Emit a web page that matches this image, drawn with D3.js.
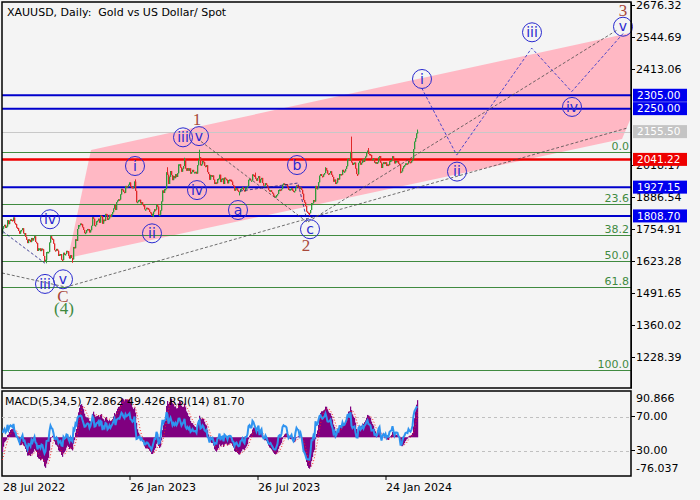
<!DOCTYPE html>
<html>
<head>
<meta charset="utf-8">
<script src="https://cdn.jsdelivr.net/npm/d3@7"></script>
<style>
  body { margin: 0; background: #f4f4f4; }
  svg { display: block; font-family: "DejaVu Sans", sans-serif; }
</style>
</head>
<body>
<script>
// daily closes before the first visible bar, only used to warm up MACD / RSI
const warmupJun22 = [1847, 1869, 1851, 1841, 1852, 1853, 1848, 1871, 1819, 1808, 1835, 1857, 1840, 1839, 1832, 1838, 1822, 1827, 1823, 1820, 1817, 1807];
const warmupJul22 = [1811, 1808, 1764, 1739, 1740, 1742, 1734, 1725, 1735, 1709, 1708, 1709, 1711, 1696, 1718, 1727, 1719, 1717, 1735];

// visible daily closes, 28 Jul 2022 .. 7 Mar 2024
const closeJul22 = [1756, 1766];
const closeAug22 = [1772, 1760, 1765, 1791, 1775, 1789, 1794, 1792, 1789, 1802, 1779, 1775, 1761, 1758, 1747, 1736, 1748, 1751, 1758, 1737, 1738, 1723, 1711];
const closeSep22 = [1697, 1712, 1710, 1701, 1718, 1708, 1717, 1725, 1702, 1697, 1665, 1675, 1675, 1664, 1674, 1671, 1644, 1622, 1628, 1660, 1661, 1661];
const closeOct22 = [1699, 1725, 1716, 1712, 1695, 1668, 1666, 1673, 1666, 1644, 1650, 1652, 1629, 1627, 1657, 1649, 1652, 1665, 1663, 1645, 1634];
const closeNov22 = [1647, 1636, 1630, 1681, 1676, 1712, 1706, 1755, 1771, 1771, 1777, 1774, 1762, 1751, 1738, 1740, 1750, 1755, 1754, 1741, 1750, 1768];
const closeDec22 = [1803, 1797, 1769, 1771, 1786, 1789, 1797, 1781, 1810, 1807, 1777, 1793, 1788, 1817, 1814, 1792, 1798, 1813, 1804, 1815, 1824];
const closeJan23 = [1839, 1855, 1833, 1865, 1872, 1877, 1876, 1897, 1920, 1916, 1908, 1904, 1932, 1926, 1931, 1937, 1946, 1930, 1928, 1923, 1928];
const closeFeb23 = [1950, 1912, 1865, 1867, 1873, 1875, 1861, 1865, 1854, 1853, 1836, 1836, 1842, 1841, 1835, 1825, 1822, 1810, 1817, 1826];
const closeMar23 = [1836, 1835, 1855, 1847, 1813, 1814, 1831, 1868, 1913, 1903, 1918, 1920, 1988, 1978, 1940, 1970, 1993, 1977, 1956, 1973, 1964, 1980, 1969];
const closeApr23 = [1984, 2020, 2021, 2008, 1991, 2003, 2014, 2040, 2004, 1995, 2005, 1995, 2004, 1983, 1989, 1998, 1989, 1989, 1990];
const closeMay23 = [1983, 2017, 2039, 2050, 2017, 2021, 2035, 2030, 2015, 2011, 2017, 1989, 1981, 1958, 1977, 1971, 1975, 1958, 1941, 1946, 1943, 1960, 1962];
const closeJun23 = [1978, 1948, 1961, 1963, 1940, 1966, 1961, 1957, 1943, 1956, 1958, 1957, 1950, 1936, 1932, 1913, 1921, 1923, 1913, 1907, 1908, 1919];
const closeJul23 = [1921, 1926, 1915, 1910, 1925, 1925, 1932, 1957, 1961, 1955, 1955, 1979, 1976, 1969, 1962, 1954, 1964, 1972, 1946, 1959, 1965];
const closeAug23 = [1944, 1934, 1934, 1943, 1936, 1925, 1915, 1912, 1914, 1907, 1901, 1892, 1889, 1889, 1894, 1899, 1915, 1917, 1914, 1920, 1937, 1942, 1940];
const closeSep23 = [1940, 1938, 1926, 1916, 1919, 1919, 1922, 1913, 1908, 1911, 1924, 1934, 1931, 1930, 1920, 1925, 1916, 1900, 1874, 1864, 1849];
const closeOct23 = [1827, 1822, 1821, 1820, 1833, 1861, 1861, 1874, 1868, 1932, 1920, 1923, 1947, 1974, 1981, 1973, 1970, 1979, 1985, 2006, 1996, 1983];
const closeNov23 = [1982, 1985, 1992, 1978, 1969, 1950, 1958, 1940, 1946, 1963, 1959, 1981, 1981, 1978, 1998, 1990, 1992, 2002, 2013, 2041, 2044, 2036];
const closeDec23 = [2072, 2029, 2019, 2025, 2028, 2004, 1981, 1980, 2027, 2034, 2020, 2027, 2041, 2031, 2046, 2053, 2067, 2077, 2064, 2063];
const closeJan24 = [2059, 2042, 2043, 2045, 2028, 2030, 2024, 2029, 2049, 2055, 2028, 2006, 2023, 2029, 2022, 2029, 2014, 2020, 2018, 2033, 2037, 2039];
const closeFeb24 = [2054, 2039, 2025, 2035, 2035, 2034, 2024, 2020, 1992, 1992, 2004, 2013, 2017, 2024, 2025, 2024, 2035, 2031, 2029, 2034, 2044];
const closeMar24 = [2083, 2114, 2128, 2148, 2155.5];

// notable wick extremes [bar, price]
const wickHigh = [[133, 1959], [165, 2009], [182, 2048], [197, 2081], [253, 1987], [323, 2009], [349, 2135], [366, 2088], [415, 2164]];
const wickLow = [[44, 1614], [70, 1616], [151, 1804], [237, 1893], [274, 1885], [307, 1810], [355, 1973], [398, 1984]];

// price axis (labels hidden under the level tags are left out) and levels
const priceTicks = [2676.32, 2544.69, 2413.06, 2018.17, 1886.54, 1754.91, 1623.28, 1491.65, 1360.02, 1228.39];
const blueLevels = [2305.00, 2250.00, 1927.15, 1808.70];
const redLevels = [2041.22];
const bidPrice = 2155.50;
const fibHigh = 2070.4;
const fibLow = 1174.9;
const fibLevels = [0, 23.6, 38.2, 50.0, 61.8, 100.0];

// time axis
const dateLabels = ["28 Jul 2022", "26 Jan 2023", "26 Jul 2023", "24 Jan 2024"];
const dateBars = [0, 128, 256, 384];

// channel drawn on the chart [bar, price]
const channel = [[89, 2080], [628, 2561], [628, 2203], [620, 2125], [66, 1636]];

// dashed wave lines [bar, price]
const grayLines = [
  [[0, 1574], [64, 1516], [625, 2170]],
  [[199, 2115], [305, 1784]],
  [[306, 1784], [615, 2573]],
];
const navyLines = [
  [[1, 1744], [43, 1614]],
  [[238, 1911], [296, 1944], [305, 1790]],
];
const projection = [[419.7, 2335], [454.7, 2059], [529.7, 2499], [569.7, 2320], [621.3, 2560]];

// wave labels
const minorWaves = [
  { label: "iv", bar: 48, price: 1795 },
  { label: "iii", bar: 43, price: 1529 },
  { label: "v", bar: 61, price: 1548 },
  { label: "i", bar: 133, price: 2014 },
  { label: "ii", bar: 150, price: 1737 },
  { label: "iii", bar: 181, price: 2132 },
  { label: "v", bar: 197, price: 2137 },
  { label: "iv", bar: 195, price: 1915 },
  { label: "a", bar: 236, price: 1833 },
  { label: "b", bar: 295, price: 2018 },
  { label: "c", bar: 308, price: 1754 },
  { label: "i", bar: 420, price: 2372 },
  { label: "ii", bar: 455, price: 1991 },
  { label: "iii", bar: 530, price: 2564 },
  { label: "iv", bar: 570, price: 2257 },
  { label: "v", bar: 621, price: 2587 },
];
const majorWaves = [
  { label: "1", bar: 195, price: 2207 },
  { label: "2", bar: 304, price: 1689 },
  { label: "3", bar: 621, price: 2656 },
  { label: "C", bar: 61, price: 1481 },
];
const cycleWaves = [{ label: "(4)", bar: 62, price: 1429 }];

// indicator window
const macdLegend = [72.862, 49.426, 81.70];
const macdMax = 90.866;
const macdMin = -76.037;
const rsiLevels = [70, 30];

const warmup = warmupJun22.concat(warmupJul22);
const closes = [].concat(closeJul22, closeAug22, closeSep22, closeOct22, closeNov22, closeDec22,
  closeJan23, closeFeb23, closeMar23, closeApr23, closeMay23, closeJun23, closeJul23, closeAug23,
  closeSep23, closeOct23, closeNov23, closeDec23, closeJan24, closeFeb24, closeMar24);

const width = 700;
const height = 500;
const main = { left: 2, right: 631, top: 2, bottom: 388 };
const sub = { top: 391, bottom: 476 };

const svg = d3.select("body").append("svg").attr("width", width).attr("height", height);

const x = d3.scaleLinear().domain([0, 629]).range([main.left, main.right]);
const y = d3.scaleLinear().domain([1100.89, 2688.66]).range([main.bottom, main.top]);
const yMacd = d3.scaleLinear().domain([macdMin, macdMax]).range([sub.bottom, sub.top]);
const yRsi = d3.scaleLinear().domain([0, 100]).range([sub.bottom, sub.top]);

const line = d3.line().x((d) => x(d[0])).y((d) => y(d[1]));

svg.append("clipPath").attr("id", "main-clip")
  .append("rect").attr("x", main.left).attr("y", main.top)
  .attr("width", main.right - main.left).attr("height", main.bottom - main.top);
svg.append("clipPath").attr("id", "sub-clip")
  .append("rect").attr("x", main.left).attr("y", sub.top)
  .attr("width", main.right - main.left).attr("height", sub.bottom - sub.top);

const plot = svg.append("g").attr("clip-path", "url(#main-clip)");

// channel
plot.append("path").attr("d", line(channel) + "Z").attr("fill", "#ffb8c4");

// fibonacci levels
const fibPrice = (l) => fibHigh - (fibHigh - fibLow) * l / 100;
plot.append("g").selectAll("line").data(fibLevels).join("line")
  .attr("x1", main.left).attr("x2", main.right)
  .attr("y1", (d) => Math.round(y(fibPrice(d))) + 0.5).attr("y2", (d) => Math.round(y(fibPrice(d))) + 0.5)
  .attr("stroke", "#3f8a3f").attr("stroke-width", 1);
plot.append("g").selectAll("text").data(fibLevels).join("text")
  .attr("x", main.right - 2).attr("y", (d) => y(fibPrice(d)) - 2)
  .attr("text-anchor", "end").attr("font-size", 11).attr("fill", "#3f8a3f")
  .text((d) => d.toFixed(1));

// bid line
plot.append("line").attr("x1", main.left).attr("x2", main.right)
  .attr("y1", Math.round(y(bidPrice)) + 0.5).attr("y2", Math.round(y(bidPrice)) + 0.5)
  .attr("stroke", "#c8c8c8");

// horizontal levels
plot.append("g").selectAll("line").data(blueLevels).join("line")
  .attr("x1", main.left).attr("x2", main.right)
  .attr("y1", (d) => y(d)).attr("y2", (d) => y(d))
  .attr("stroke", "#0000cc").attr("stroke-width", 2);
plot.append("g").selectAll("line").data(redLevels).join("line")
  .attr("x1", main.left).attr("x2", main.right)
  .attr("y1", (d) => y(d)).attr("y2", (d) => y(d))
  .attr("stroke", "#ee0000").attr("stroke-width", 2.5);

// candles (open = previous close)
const highs = new Map(wickHigh);
const lows = new Map(wickLow);
const bars = closes.map((c, i) => {
  const o = i === 0 ? warmup[warmup.length - 1] : closes[i - 1];
  return { i, o, c, h: highs.get(i) || Math.max(o, c), l: lows.get(i) || Math.min(o, c) };
});
const barColor = (d) => (d.c >= d.o ? "#2f9a3a" : "#e02828");
plot.append("g").selectAll("line").data(bars).join("line")
  .attr("x1", (d) => x(d.i) + 0.5).attr("x2", (d) => x(d.i) + 0.5)
  .attr("y1", (d) => y(d.h)).attr("y2", (d) => y(d.l))
  .attr("stroke", barColor).attr("stroke-width", 1);
plot.append("g").selectAll("rect").data(bars).join("rect")
  .attr("x", (d) => x(d.i)).attr("width", 1.3)
  .attr("y", (d) => y(Math.max(d.o, d.c)))
  .attr("height", (d) => Math.max(1.5, Math.abs(y(d.o) - y(d.c))))
  .attr("fill", barColor);

// dashed wave lines
plot.append("g").selectAll("path").data(grayLines).join("path")
  .attr("d", line).attr("fill", "none").attr("stroke", "#4a4a4a")
  .attr("stroke-width", 0.8).attr("stroke-dasharray", "3,2");
plot.append("g").selectAll("path").data(navyLines).join("path")
  .attr("d", line).attr("fill", "none").attr("stroke", "#1a1a80")
  .attr("stroke-width", 0.8).attr("stroke-dasharray", "3,2");
plot.append("path").attr("d", line(projection)).attr("fill", "none")
  .attr("stroke", "#3a3ac8").attr("stroke-width", 0.9).attr("stroke-dasharray", "3,2");

// wave labels
const labels = svg.append("g");
const minor = labels.selectAll("g.minor").data(minorWaves).join("g")
  .attr("transform", (d) => `translate(${x(d.bar)},${y(d.price)})`);
minor.append("circle").attr("r", 9.5).attr("fill", "none").attr("stroke", "#2a2ad0").attr("stroke-width", 1);
minor.append("text").attr("text-anchor", "middle").attr("dy", "0.33em")
  .attr("font-size", 14).attr("fill", "#2a2ad0").text((d) => d.label);

labels.selectAll("text.major").data(majorWaves).join("text")
  .attr("x", (d) => x(d.bar)).attr("y", (d) => y(d.price))
  .attr("dy", "0.35em").attr("text-anchor", "middle")
  .attr("font-family", "Liberation Serif, serif").attr("font-size", 17)
  .attr("fill", "#a8483a").text((d) => d.label);
labels.selectAll("text.cycle").data(cycleWaves).join("text")
  .attr("x", (d) => x(d.bar)).attr("y", (d) => y(d.price))
  .attr("dy", "0.35em").attr("text-anchor", "middle")
  .attr("font-family", "Liberation Serif, serif").attr("font-size", 17)
  .attr("fill", "#3f8a3f").text((d) => d.label);

// frames
svg.append("rect").attr("x", main.left).attr("y", main.top)
  .attr("width", main.right - main.left).attr("height", main.bottom - main.top)
  .attr("fill", "none").attr("stroke", "#000").attr("stroke-width", 1.5);
svg.append("rect").attr("x", main.left).attr("y", sub.top)
  .attr("width", main.right - main.left).attr("height", sub.bottom - sub.top)
  .attr("fill", "none").attr("stroke", "#000").attr("stroke-width", 1.5);

svg.append("text").attr("x", 7).attr("y", 16).attr("font-size", 11).attr("fill", "#000")
  .style("white-space", "pre")
  .text("XAUUSD, Daily:  Gold vs US Dollar/ Spot");

// price axis
const axis = svg.append("g").attr("transform", `translate(${main.right},0)`)
  .call(d3.axisRight(y).tickValues(priceTicks).tickSize(4).tickPadding(1).tickSizeOuter(0).tickFormat(d3.format(".2f")));
axis.attr("font-family", "DejaVu Sans, sans-serif").attr("font-size", 11);
axis.select(".domain").attr("stroke", "#000");

// level tags on the axis
const tags = [
  ...blueLevels.map((p) => ({ p, fill: "#0000ee" })),
  ...redLevels.map((p) => ({ p, fill: "#ee0000" })),
  { p: bidPrice, fill: "#c4c4c4" },
];
const tag = svg.append("g").selectAll("g").data(tags).join("g")
  .attr("transform", (d) => `translate(${main.right + 2},${y(d.p)})`);
tag.append("rect").attr("x", 0).attr("y", -6.5).attr("width", 54).attr("height", 13).attr("fill", (d) => d.fill);
tag.append("text").attr("x", 4).attr("dy", "0.36em").attr("font-size", 10.5).attr("fill", "#fff")
  .text((d) => d.p.toFixed(2));

// indicators
const all = warmup.concat(closes);
const ema = (arr, n) => {
  const k = 2 / (n + 1);
  let e = arr[0];
  return arr.map((v, i) => (e = i === 0 ? v : v * k + e * (1 - k)));
};
const fast = ema(all, 5);
const slow = ema(all, 34);
const macdAll = all.map((_, i) => fast[i] - slow[i]);
const signalAll = macdAll.map((_, i) => d3.mean(macdAll.slice(Math.max(0, i - 4), i + 1)));
const rsiAll = [];
let avgUp = 0;
let avgDn = 0;
all.forEach((c, i) => {
  if (i === 0) { rsiAll.push(50); return; }
  const ch = c - all[i - 1];
  const up = Math.max(ch, 0);
  const dn = Math.max(-ch, 0);
  if (i <= 14) { avgUp += up / 14; avgDn += dn / 14; }
  else { avgUp = (avgUp * 13 + up) / 14; avgDn = (avgDn * 13 + dn) / 14; }
  rsiAll.push(avgDn === 0 ? 100 : 100 - 100 / (1 + avgUp / avgDn));
});
const off = warmup.length;
const macd = macdAll.slice(off);
const signal = signalAll.slice(off);
const rsi = rsiAll.slice(off);

const subPlot = svg.append("g").attr("clip-path", "url(#sub-clip)");
subPlot.append("g").selectAll("line").data(rsiLevels).join("line")
  .attr("x1", main.left).attr("x2", main.right)
  .attr("y1", (d) => Math.round(yRsi(d)) + 0.5).attr("y2", (d) => Math.round(yRsi(d)) + 0.5)
  .attr("stroke", "#c0c0c0").attr("stroke-dasharray", "3,3");
subPlot.append("g").selectAll("rect").data(macd).join("rect")
  .attr("x", (d, i) => x(i)).attr("width", 1.2)
  .attr("y", (d) => Math.min(yMacd(0), yMacd(d)))
  .attr("height", (d) => Math.abs(yMacd(d) - yMacd(0)))
  .attr("fill", "#800080");
subPlot.append("path")
  .attr("d", d3.line().x((d, i) => x(i) + 0.5).y((d) => yMacd(d))(signal))
  .attr("fill", "none").attr("stroke", "#ff2020").attr("stroke-width", 1).attr("stroke-dasharray", "1,2");
subPlot.append("path")
  .attr("d", d3.line().x((d, i) => x(i) + 0.5).y((d) => yRsi(d))(rsi))
  .attr("fill", "none").attr("stroke", "#2e93f0").attr("stroke-width", 2);

svg.append("text").attr("x", 5).attr("y", 405).attr("font-size", 11).attr("fill", "#000")
  .text(`MACD(5,34,5) ${macdLegend[0].toFixed(3)} ${macdLegend[1].toFixed(3)} RSI(14) ${macdLegend[2].toFixed(2)}`);

const subAxis = svg.append("g").attr("font-size", 11).attr("fill", "#000");
subAxis.selectAll("line").data(rsiLevels).join("line")
  .attr("x1", main.right).attr("x2", main.right + 4)
  .attr("y1", (d) => yRsi(d)).attr("y2", (d) => yRsi(d)).attr("stroke", "#000");
subAxis.selectAll("text.rsi").data(rsiLevels).join("text")
  .attr("x", main.right + 5).attr("y", (d) => yRsi(d)).attr("dy", "0.36em")
  .text((d) => d.toFixed(2));
subAxis.append("text").attr("x", main.right + 5).attr("y", yMacd(macdMax) + 7).attr("dy", "0.36em")
  .text(macdMax.toFixed(3));
subAxis.append("text").attr("x", main.right + 5).attr("y", yMacd(macdMin) - 8).attr("dy", "0.36em")
  .text(macdMin.toFixed(3));

// date axis
const dates = svg.append("g").attr("font-size", 11).attr("fill", "#000");
dates.selectAll("line").data(dateBars.slice(1)).join("line")
  .attr("x1", (d) => x(d)).attr("x2", (d) => x(d))
  .attr("y1", sub.bottom).attr("y2", sub.bottom + 4).attr("stroke", "#000");
dates.selectAll("text").data(dateLabels).join("text")
  .attr("x", (d, i) => (i === 0 ? 3 : x(dateBars[i])))
  .attr("y", 491)
  .text((d) => d);
</script>
</body>
</html>
